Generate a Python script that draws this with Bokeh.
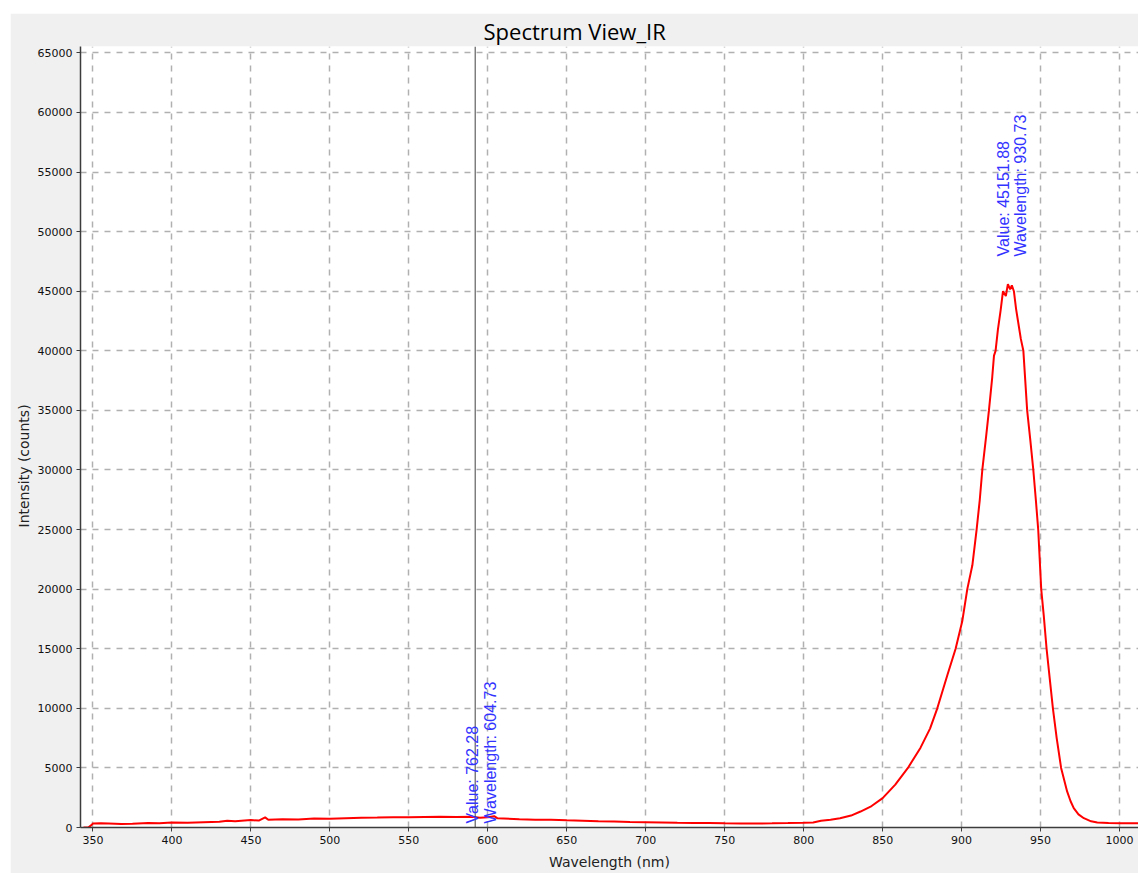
from bokeh.plotting import figure
from bokeh.models import Range1d, Span, Label, Title, Spacer
from bokeh.layouts import column, row
from bokeh.embed import file_html
from bokeh.resources import INLINE

# ---- data ----
wavelength = [
    344, 347, 349, 350, 355, 360, 368, 375, 385, 392, 400, 410, 420, 430, 435,
    440, 450, 455, 459, 461, 470, 480, 490, 500, 510, 520, 530, 540, 550, 560,
    570, 580, 590, 595, 600, 604, 606, 610, 620, 630, 640, 650, 660, 670, 680,
    690, 700, 710, 720, 730, 740, 750, 760, 770, 780, 790, 800, 806, 811, 817,
    823, 830, 836, 843, 850, 858, 866, 874, 880, 884.6, 891, 896.2, 900.4, 903.6,
    906.8, 909.5, 911.5, 913.1, 915.5, 917.3, 919.4, 920.5, 921.5, 923, 924.7,
    926.2, 928, 929.3, 930.73, 931.8, 933.1, 934.5, 936.3, 937.5, 939.1, 940.3,
    941.5, 943.5, 945.4, 947, 948.5, 950.4, 952, 953.8, 955.8, 957.8, 960.2, 963,
    966.8, 969, 971, 974, 977.4, 982, 985.9, 993, 1000.6, 1012,
]
intensity = [
    0, 0, 200, 330, 350, 330, 290, 320, 380, 350, 420, 400, 450, 480, 560,
    520, 620, 580, 850, 650, 700, 680, 760, 740, 780, 810, 830, 870, 850, 880,
    900, 880, 900, 820, 860, 950, 780, 760, 700, 660, 640, 600, 570, 530, 500,
    470, 450, 430, 400, 380, 370, 350, 340, 340, 350, 370, 400, 420, 560, 650,
    780, 1000, 1340, 1800, 2460, 3600, 5000, 6700, 8300, 10000, 12800, 15000, 17300, 20000,
    22000, 25000, 27500, 30000, 32800, 35000, 37800, 39600, 40000, 41800, 43400,
    45000, 44600, 45600, 45151.88, 45500, 45000, 43500, 42000, 41000, 40000, 37500,
    35000, 32500, 30000, 27500, 25000, 20000, 17800, 15000, 12500, 10000, 7500, 5000,
    3030, 2200, 1620, 1100, 780, 520, 420, 370, 360, 350,
]
x_ticks = [350, 400, 450, 500, 550, 600, 650, 700, 750, 800, 850, 900, 950, 1000]
y_ticks = [0, 5000, 10000, 15000, 20000, 25000, 30000, 35000, 40000, 45000,
           50000, 55000, 60000, 65000]

cursor_wavelength = 592.0
cursor_value = 762.28
cursor_label_wavelength = 604.73
peak_wavelength = 930.73
peak_value = 45151.88

title_text = "Spectrum View_IR"
x_label = "Wavelength (nm)"
y_label = "Intensity (counts)"

# ---- figure ----
p = figure(
    width=1128, height=860,
    x_range=Range1d(342.1, 1012.0), y_range=Range1d(0, 65536),
    output_backend="svg", toolbar_location=None,
    min_border_left=70, min_border_right=0, min_border_top=32, min_border_bottom=46,
)
p.background_fill_color = "white"
p.border_fill_color = "#f0f0f0"
p.outline_line_color = None

p.title.text = title_text
p.title.align = "left"
p.title.offset = 403
p.title.text_font = "Open Sans"
p.title.text_font_size = "22px"
p.title.text_font_style = "normal"
p.title.text_color = "#000000"
p.title.standoff = 1

ylab = Title(text=y_label, align="left", offset=300, text_font="DejaVu Sans",
             text_font_size="14px", text_font_style="normal", text_color="#222222",
             standoff=5)
p.add_layout(ylab, "left")

p.xaxis.axis_label = x_label
p.xaxis.axis_label_text_font = "DejaVu Sans"
p.xaxis.axis_label_text_font_size = "14px"
p.xaxis.axis_label_text_font_style = "normal"
p.xaxis.axis_label_text_color = "#222222"
p.xaxis.axis_label_standoff = 7

for ax in (p.xaxis, p.yaxis):
    ax.major_label_text_font = "DejaVu Sans"
    ax.major_label_text_font_size = "11px"
    ax.major_label_text_color = "#111111"
    ax.axis_line_color = "#3c3c3c"
    ax.axis_line_width = 1.5
    ax.major_tick_line_color = "#3c3c3c"
    ax.major_tick_in = 0
    ax.major_tick_out = 4
    ax.minor_tick_line_color = None
p.xaxis.ticker = x_ticks
p.yaxis.ticker = y_ticks
p.xaxis.major_label_standoff = 4
p.yaxis.major_label_standoff = 4

for g in (p.xgrid, p.ygrid):
    g.grid_line_color = "#b0b0b0"
    g.grid_line_width = 1.5
    g.grid_line_dash = "6 6"

p.line(wavelength, intensity, line_color="#ff0000", line_width=2)

p.add_layout(Span(location=cursor_wavelength, dimension="height",
                  line_color="#404040", line_width=1))

p.add_layout(Label(
    x=cursor_wavelength, y=cursor_value,
    text=f"Value: {cursor_value:.2f}\nWavelength: {cursor_label_wavelength:.2f}",
    angle=90, angle_units="deg", text_align="left", text_baseline="top",
    x_offset=-11, y_offset=-5, text_color="#3333ff",
    text_font="Liberation Sans", text_font_size="16px", text_line_height=1.05,
))
p.add_layout(Label(
    x=peak_wavelength, y=peak_value,
    text=f"Value: {peak_value:.2f}\nWavelength: {peak_wavelength:.2f}",
    angle=90, angle_units="deg", text_align="left", text_baseline="top",
    x_offset=-15.6, y_offset=33, text_color="#3333ff",
    text_font="Liberation Sans", text_font_size="16px", text_line_height=1.05,
))

layout = column(Spacer(height=13), row(Spacer(width=10), p))
open("out.html", "w").write(file_html(layout, INLINE))
